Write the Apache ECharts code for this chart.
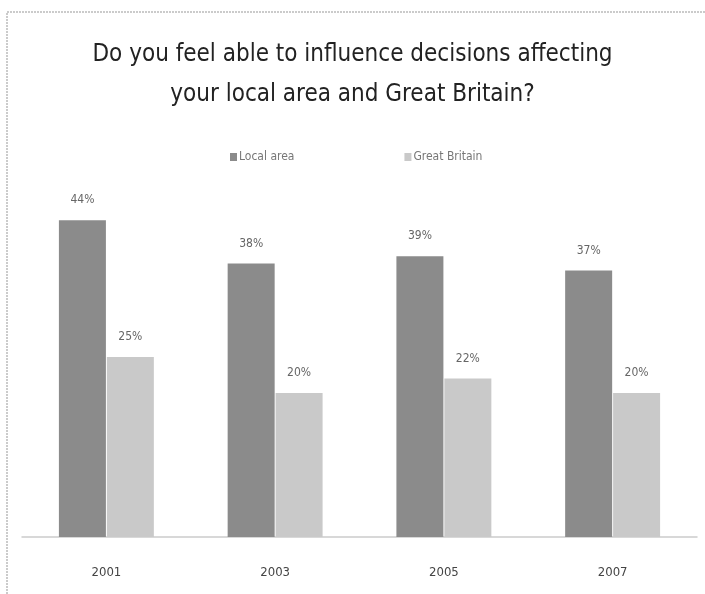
<!DOCTYPE html>
<html><head><meta charset="utf-8">
<script src="https://cdn.jsdelivr.net/npm/echarts@6/dist/echarts.min.js"></script>
<style>html,body{margin:0;padding:0;background:#fff}#c{width:705px;height:594px}</style>
</head><body><div id="c"></div>
<script>
var categories = ['2001', '2003', '2005', '2007'];
var localArea = [44, 38, 39, 37];
var greatBritain = [25, 20, 22, 20];
var seriesNames = ['Local area', 'Great Britain'];
var titleText = 'Do you feel able to influence decisions affecting\nyour local area and Great Britain?';

var FONT = '"Liberation Sans Narrow", "DejaVu Sans Condensed", sans-serif';
var chart = echarts.init(document.getElementById('c'));
chart.setOption({
  backgroundColor: '#fff',
  animation: false,
  title: {
    text: titleText, left: 'center', top: 30,
    textStyle: { fontFamily: FONT, fontSize: 24, fontWeight: 'normal', color: '#222', lineHeight: 40 }
  },
  legend: {
    data: seriesNames, top: 146, left: 225, itemGap: 110,
    itemWidth: 7, itemHeight: 8, icon: 'rect',
    textStyle: { fontFamily: FONT, fontSize: 12, color: '#777', padding: [0,0,0,-3] }
  },
  graphic: [{
    type: 'polyline', silent: true,
    shape: { points: [[7, 594], [7, 12], [705, 12]] },
    style: { stroke: '#bbb', lineWidth: 1.5, fill: null, lineDash: [2, 1] }
  }],
  grid: { left: 22, right: 8, top: 177, bottom: 57 },
  xAxis: {
    type: 'category', data: categories,
    axisLine: { lineStyle: { color: '#ccc', width: 1.5 } },
    axisTick: { show: false },
    axisLabel: { fontFamily: FONT, fontSize: 13, color: '#444', margin: 29 }
  },
  yAxis: { type: 'value', min: 0, max: 50, show: false, splitLine: { show: false } },
  series: [
    { name: seriesNames[0], type: 'bar', data: localArea, barWidth: 47, barGap: '2%',
      itemStyle: { color: '#8b8b8b' },
      label: { show: true, position: 'top', distance: 14, formatter: '{c}%', fontFamily: FONT, fontSize: 12, color: '#666' } },
    { name: seriesNames[1], type: 'bar', data: greatBritain, barWidth: 47,
      itemStyle: { color: '#c9c9c9' },
      label: { show: true, position: 'top', distance: 14, formatter: '{c}%', fontFamily: FONT, fontSize: 12, color: '#666' } }
  ]
});
</script></body></html>
